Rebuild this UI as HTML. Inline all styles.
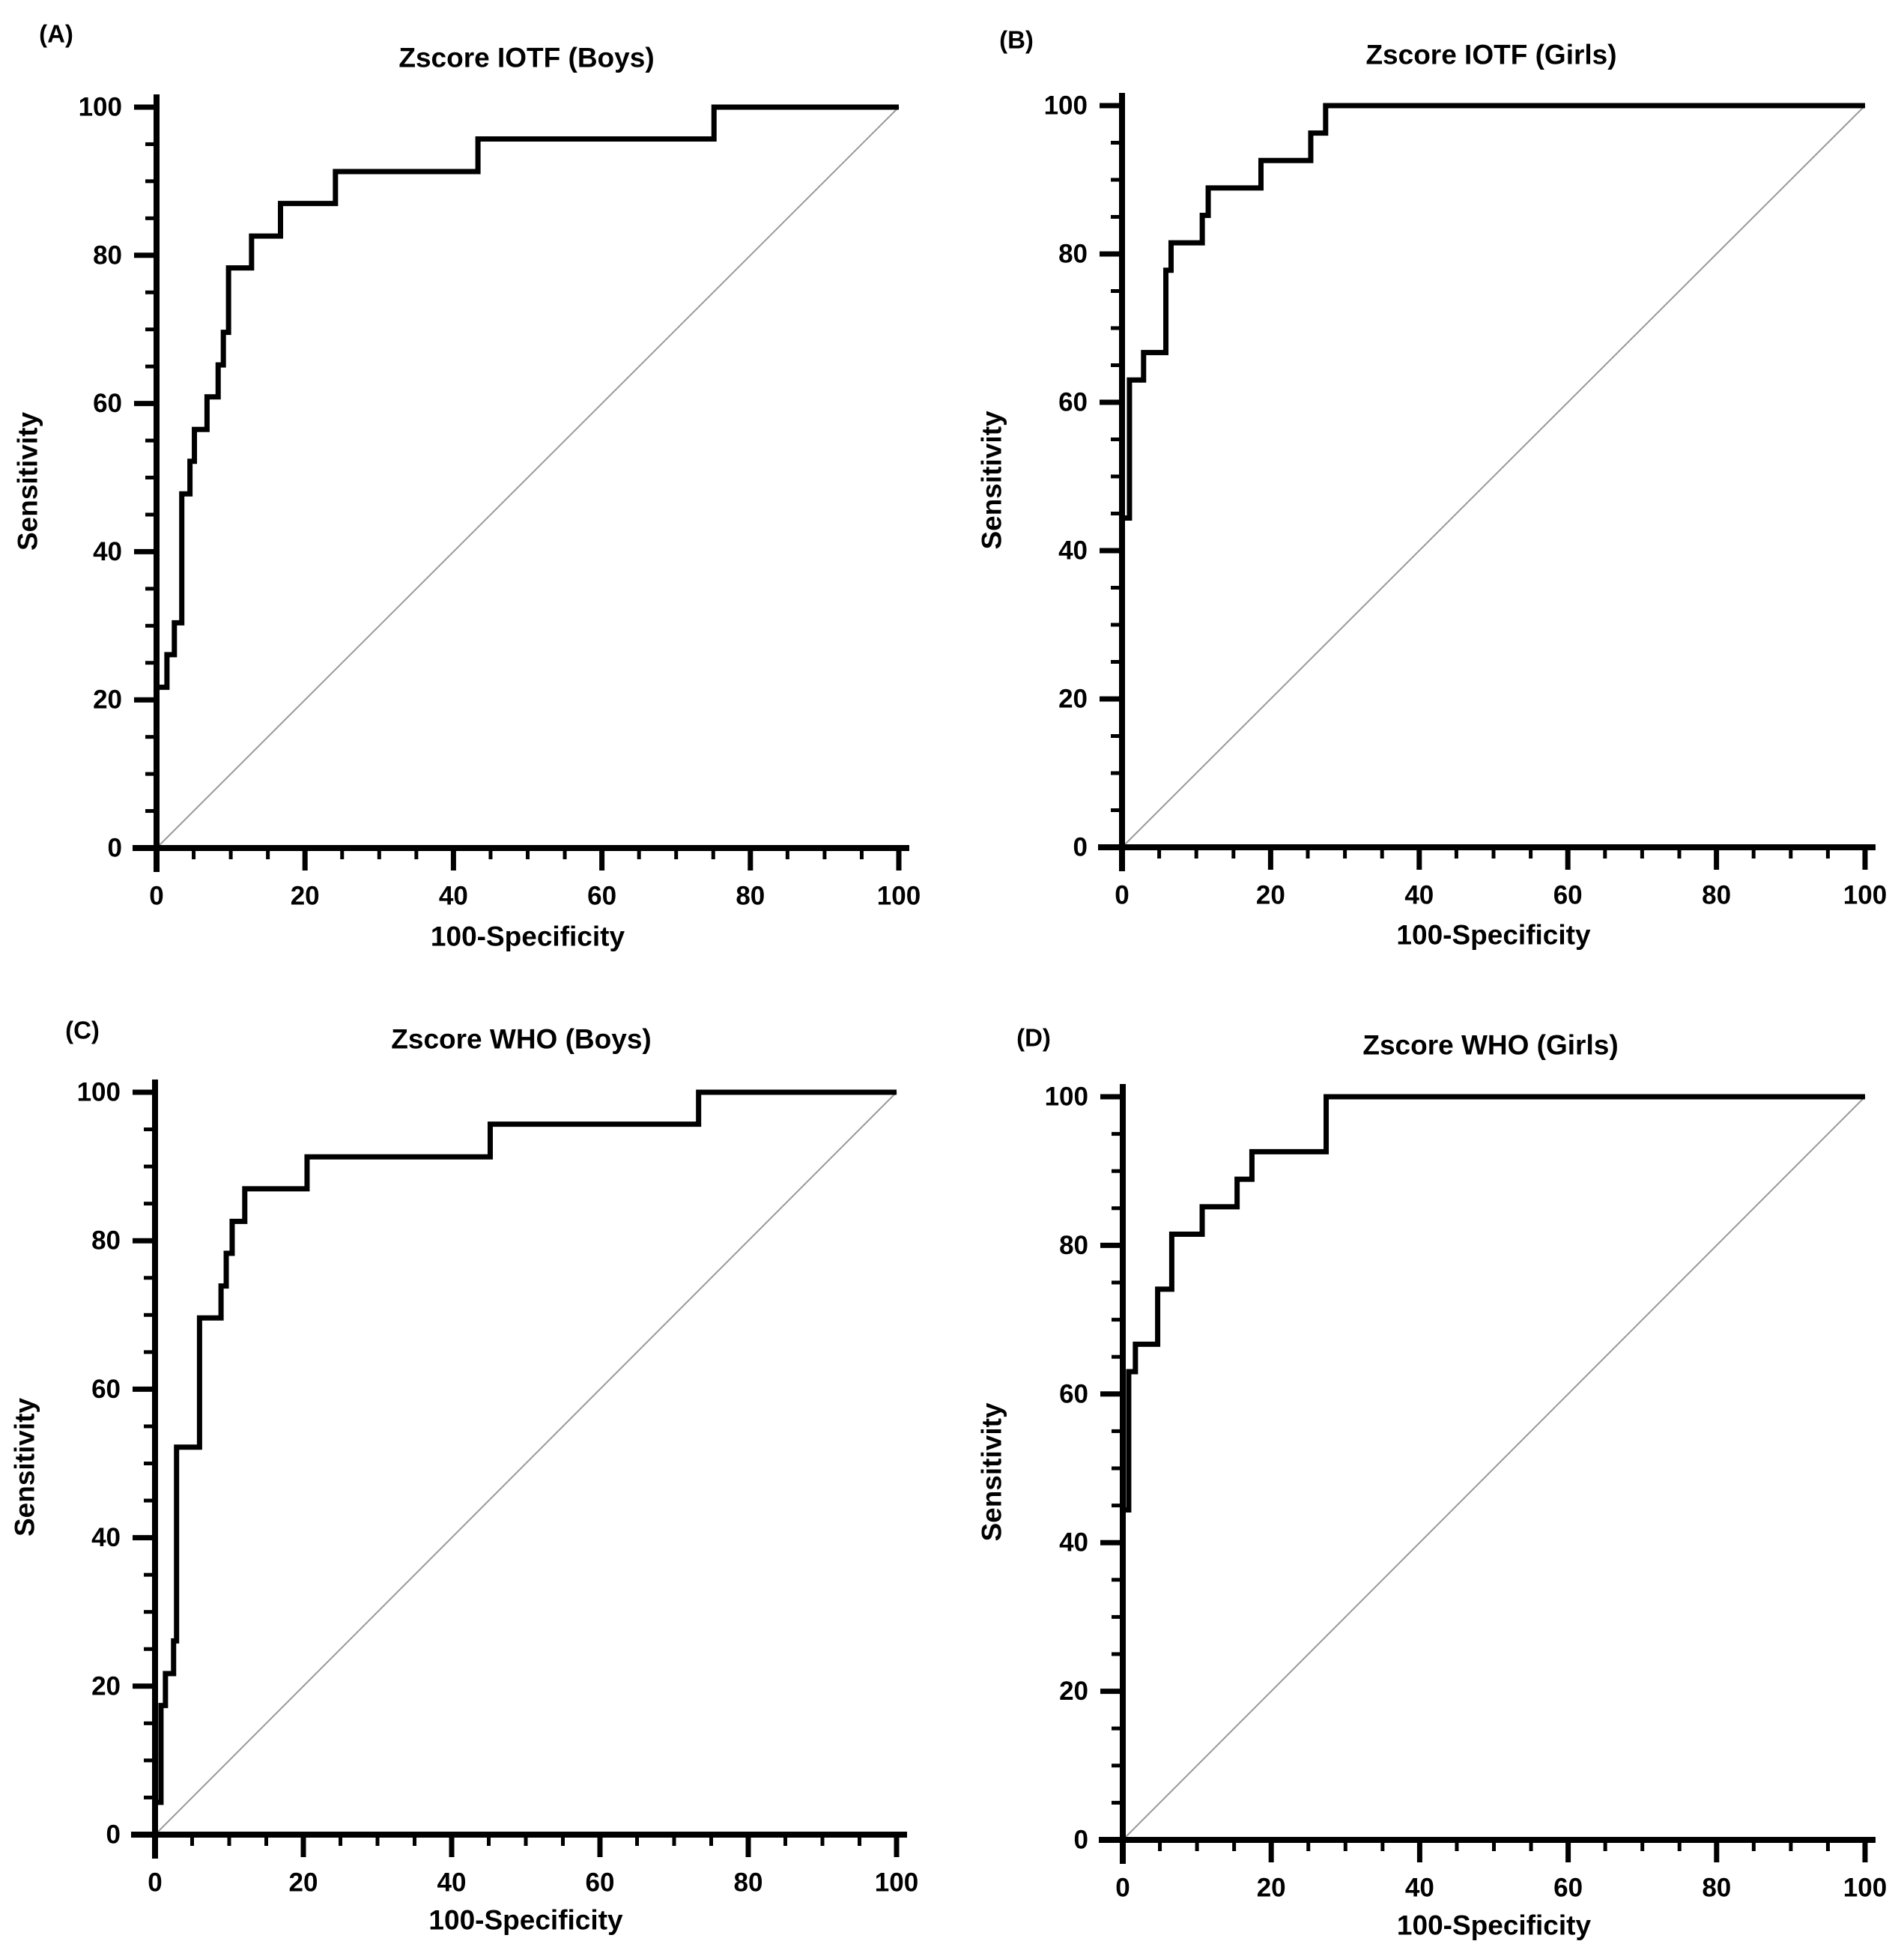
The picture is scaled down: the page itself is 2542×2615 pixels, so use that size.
<!DOCTYPE html>
<html><head><meta charset="utf-8"><style>
html,body{margin:0;padding:0;background:#fff;}
svg{display:block;font-family:"Liberation Sans",Arial,sans-serif;font-weight:bold;}
</style></head><body>
<svg id="chart" width="2542" height="2615" viewBox="0 0 2542 2615" xmlns="http://www.w3.org/2000/svg"></svg>
<script>
// Panel A: Zscore IOTF (Boys)
const aFpr = [0,1.4,2.4,3.4,4.5,5.1,6.8,8.3,9.0,9.7,12.8,16.7,24.1,43.3,75.1,100];
const aTpr = [21.7,26.1,30.4,47.8,52.2,56.5,60.9,65.2,69.6,78.3,82.6,87.0,91.3,95.7,100,100];
// Panel B: Zscore IOTF (Girls)
const bFpr = [0,1.0,2.9,5.9,6.6,10.8,11.6,18.7,25.4,27.4,100];
const bTpr = [44.4,63.0,66.7,77.8,81.5,85.2,88.9,92.6,96.3,100,100];
// Panel C: Zscore WHO (Boys)
const cFpr = [0,0.8,1.4,2.5,2.9,6.0,8.9,9.6,10.4,12.1,20.5,45.2,73.3,100];
const cTpr = [4.35,17.4,21.7,26.1,52.2,69.6,73.9,78.3,82.6,87.0,91.3,95.7,100,100];
// Panel D: Zscore WHO (Girls)
const dFpr = [0,0.8,1.7,4.7,6.6,10.7,15.4,17.4,27.4,100];
const dTpr = [44.4,63.0,66.7,74.1,81.5,85.2,88.9,92.6,100,100];
const tickLabels = ["0","20","40","60","80","100"];
const tickValues = [0,20,40,60,80,100];

const NS="http://www.w3.org/2000/svg";
const svg=document.getElementById('chart');
function mk(tag,attrs,parent){const e=document.createElementNS(NS,tag);for(const k in attrs)e.setAttribute(k,attrs[k]);(parent||svg).appendChild(e);return e;}

const panels=[
 {id:'a',letter:'(A)',title:'Zscore IOTF (Boys)',x0:209,x1:1200,y0:1132,y1:143,fpr:aFpr,tpr:aTpr,lx:75,ly:45,tx:703,ty:77,ytx:37,xty:1250},
 {id:'b',letter:'(B)',title:'Zscore IOTF (Girls)',x0:1498,x1:2490,y0:1131,y1:141,fpr:bFpr,tpr:bTpr,lx:1357,ly:53,tx:1991,ty:73,ytx:1324,xty:1248},
 {id:'c',letter:'(C)',title:'Zscore WHO (Boys)',x0:207,x1:1197,y0:2449,y1:1458,fpr:cFpr,tpr:cTpr,lx:110,ly:1375,tx:696,ty:1387,ytx:33,xty:2563},
 {id:'d',letter:'(D)',title:'Zscore WHO (Girls)',x0:1499,x1:2490,y0:2456,y1:1464,fpr:dFpr,tpr:dTpr,lx:1380,ly:1385,tx:1990,ty:1395,ytx:1324,xty:2570}
];

panels.forEach(p=>{
  const g=mk('g',{});
  
  
  const X=v=>p.x0+(p.x1-p.x0)*v/100;
  const Y=v=>p.y0+(p.y1-p.y0)*v/100;
  const l=mk('text',{x:p.lx,y:p.ly,'font-size':33,'text-anchor':'middle','dominant-baseline':'central'},g);
  l.textContent=p.letter;
  
  
  const t=mk('text',{x:p.tx,y:p.ty,'font-size':37,'text-anchor':'middle','dominant-baseline':'central'},g);
  t.textContent=p.title;
  
  
  const dg=mk('line',{x1:X(0),y1:Y(0),x2:X(100),y2:Y(100),stroke:'#9a9a9a','stroke-width':2},g);
  
  
  const xa=mk('line',{x1:X(0)-32,y1:Y(0),x2:X(100)+14,y2:Y(0),stroke:'#000','stroke-width':8},g);
  
  
  const ya=mk('line',{x1:X(0),y1:Y(0)+32,x2:X(0),y2:Y(100)-17,stroke:'#000','stroke-width':8},g);
  
  
  for(let v=5;v<=100;v+=5){
    const major=(v%20===0);
    const len=major?30:15;
    const xt=mk('line',{x1:X(v),y1:Y(0),x2:X(v),y2:Y(0)+len,stroke:'#000','stroke-width':major?7:5},g);
    
    
    const yt=mk('line',{x1:X(0),y1:Y(v),x2:X(0)-len,y2:Y(v),stroke:'#000','stroke-width':major?7:5},g);
    
    
  }
  tickValues.forEach((v,i)=>{
    const xl=mk('text',{x:X(v),y:Y(0)+64,'font-size':35,'text-anchor':'middle','dominant-baseline':'central'},g);
    xl.textContent=tickLabels[i];
    
    
    const yl=mk('text',{x:X(0)-46,y:Y(v),'font-size':35,'text-anchor':'end','dominant-baseline':'central'},g);
    yl.textContent=tickLabels[i];
    
    
  });
  const xt=mk('text',{x:(X(0)+X(100))/2,y:p.xty,'font-size':37,'text-anchor':'middle','dominant-baseline':'central'},g);
  xt.textContent='100-Specificity';
  
  
  const cy=(Y(0)+Y(100))/2+5;
  const yt=mk('text',{x:p.ytx,y:cy,'font-size':37,'text-anchor':'middle','dominant-baseline':'central',transform:'rotate(-90 '+p.ytx+' '+cy+')'},g);
  yt.textContent='Sensitivity';
  
  
  let d='M'+X(0)+' '+Y(0);
  let prev=0;
  for(let i=0;i<p.fpr.length;i++){
    d+=' L'+X(p.fpr[i])+' '+Y(prev)+' L'+X(p.fpr[i])+' '+Y(p.tpr[i]);
    prev=p.tpr[i];
  }
  const c=mk('path',{d:d,fill:'none',stroke:'#000','stroke-width':7,'stroke-linejoin':'miter'},g);
  
  
});
</script>
</body></html>
